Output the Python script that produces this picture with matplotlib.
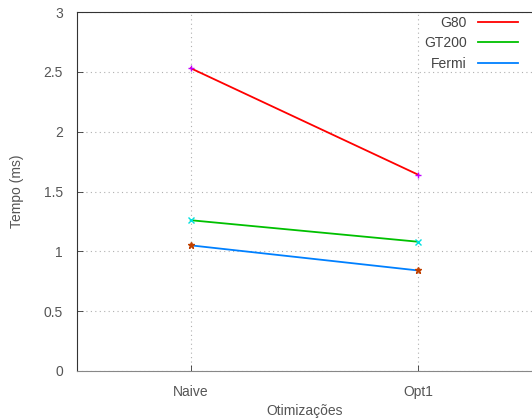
#!/usr/bin/env python3
import matplotlib
matplotlib.use('Agg')
import matplotlib.pyplot as plt
from matplotlib.lines import Line2D

# Dados
otimizacoes = ['Naive', 'Opt1']
g80 = [2.53, 1.64]
gt200 = [1.26, 1.08]
fermi = [1.05, 0.84]

series = [
    ('G80', g80, '#ff0000', '+', '#c000ff'),
    ('GT200', gt200, '#00c000', 'x', '#00e0e0'),
    ('Fermi', fermi, '#0080ff', '*', '#c04000'),
]

plt.rcParams['font.family'] = ['Liberation Sans', 'DejaVu Sans']
plt.rcParams['font.size'] = 10

fig = plt.figure(figsize=(5.32, 4.2), dpi=100)
ax = fig.add_axes([77 / 532, 49 / 420, 455 / 532, 359 / 420])

x = range(len(otimizacoes))
for nome, vals, cor, marc, cor_marc in series:
    ax.plot(x, vals, color=cor, lw=1.3, zorder=3)
    ax.plot(x, vals, ls='none', marker=marc, ms=5, mew=1,
            color=cor_marc, zorder=4)

ax.set_xlim(-0.5, 1.5)
ax.set_ylim(0, 3)
ax.set_xticks(list(x))
ax.set_xticklabels(otimizacoes)
ax.set_yticks([0, 0.5, 1, 1.5, 2, 2.5, 3])
ax.set_yticklabels(['0', '0.5', '1', '1.5', '2', '2.5', '3'])

ax.tick_params(direction='in', length=4, width=0.6, colors='#333333',
               labelcolor='#555555', pad=10)
ax.tick_params(axis='x', pad=10)
for s in ax.spines.values():
    s.set_linewidth(0.8)
    s.set_color('#333333')
ax.spines['bottom'].set_color('#888888')
ax.spines['right'].set_visible(False)

# Grade pontilhada
ax.grid(True, color='#b0b0b0', linestyle=(0, (1, 3)), lw=0.8)

ax.set_xlabel('Otimizações', color='#555555', labelpad=4)
ax.set_ylabel('Tempo (ms)', color='#555555', labelpad=14)

handles = [Line2D([0], [0], color=c, lw=1.3) for _, _, c, _, _ in series]
leg = ax.legend(handles, [n for n, _, _, _, _ in series], loc='upper right',
                bbox_to_anchor=(518 / 532, 404 / 420),
                bbox_transform=fig.transFigure,
                markerfirst=False, frameon=False, handlelength=2.9,
                labelspacing=0.45, borderaxespad=0, borderpad=0,
                handletextpad=0.8)
for t in leg.get_texts():
    t.set_color('#444444')
    t.set_ha('right')

fig.savefig('out.png', dpi=100)
